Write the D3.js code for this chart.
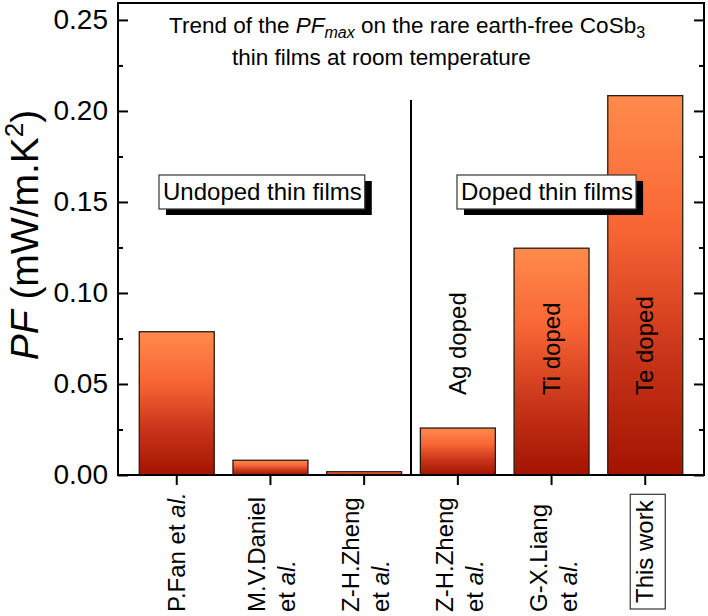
<!DOCTYPE html>
<html>
<head>
<meta charset="utf-8">
<script src="https://cdn.jsdelivr.net/npm/d3@7"></script>
<style>
  body { margin: 0; background: #fff; }
  text { font-family: "Liberation Sans", Arial, sans-serif; fill: #000; }
</style>
</head>
<body>
<div id="chart"></div>
<script>
// data
var references = ["P.Fan", "M.V.Daniel", "Z-H.Zheng", "Z-H.Zheng", "G-X.Liang", "This work"];
var tickLabels = [["P.Fan et al."], ["M.V.Daniel", "et al."], ["Z-H.Zheng", "et al."],
                  ["Z-H.Zheng", "et al."], ["G-X.Liang", "et al."], ["This work"]];
var pfValues = [0.0787, 0.0081, 0.0018, 0.0258, 0.1246, 0.2084];
var dopants = ["", "", "", "Ag doped", "Ti doped", "Te doped"];
var yTicks = [0, 0.05, 0.10, 0.15, 0.20, 0.25];
var yMinorTicks = [0.025, 0.075, 0.125, 0.175, 0.225];
var groupLabels = ["Undoped thin films", "Doped thin films"];

var svgWidth = 708, svgHeight = 616;
var margin = { top: 3, right: 4, bottom: 141, left: 118 };
var width = svgWidth - margin.left - margin.right;
var height = svgHeight - margin.top - margin.bottom;

var svg = d3.select("#chart").append("svg")
  .attr("width", svgWidth)
  .attr("height", svgHeight);

// bar gradient, light orange on top to dark red at the bottom
var grad = svg.append("defs").append("linearGradient")
  .attr("id", "barGrad")
  .attr("x1", 0).attr("y1", 0).attr("x2", 0).attr("y2", 1);
grad.append("stop").attr("offset", "0%").attr("stop-color", "#ff8b4c");
grad.append("stop").attr("offset", "35%").attr("stop-color", "#f86534");
grad.append("stop").attr("offset", "68%").attr("stop-color", "#c9351a");
grad.append("stop").attr("offset", "100%").attr("stop-color", "#a31300");

var chartGroup = svg.append("g")
  .attr("transform", `translate(${margin.left}, ${margin.top})`);

var idx = d3.range(references.length);

var xScale = d3.scaleBand()
  .domain(idx)
  .range([0, width])
  .paddingInner(0.2)
  .paddingOuter(0.227);

var yScale = d3.scaleLinear()
  .domain([0, 0.2593])
  .range([height, 0]);

// bars
chartGroup.selectAll("rect.bar")
  .data(idx)
  .enter()
  .append("rect")
  .attr("class", "bar")
  .attr("x", i => xScale(i))
  .attr("y", i => yScale(pfValues[i]))
  .attr("width", xScale.bandwidth())
  .attr("height", i => height - yScale(pfValues[i]))
  .attr("fill", "url(#barGrad)")
  .attr("stroke", "#2a1a14")
  .attr("stroke-width", 1.3);

// dopant labels inside / above bars
chartGroup.selectAll("g.dop")
  .data(idx.filter(i => dopants[i] !== ""))
  .enter()
  .append("g")
  .attr("transform", i => `translate(${xScale(i) + xScale.bandwidth() / 2}, 392) rotate(-90)`)
  .append("text")
  .attr("y", 8)
  .attr("font-size", "24px")
  .text(i => dopants[i]);

// divider between undoped and doped
var divX = (xScale(2) + xScale.bandwidth() + xScale(3)) / 2;
chartGroup.append("line")
  .attr("x1", divX).attr("x2", divX)
  .attr("y1", yScale(0)).attr("y2", yScale(0.206))
  .attr("stroke", "#000")
  .attr("stroke-width", 2);

// axes
var leftAxis = d3.axisLeft(yScale).tickValues(yTicks).tickSize(-10).tickPadding(10)
  .tickFormat(d3.format(".2f"));
var leftMinor = d3.axisLeft(yScale).tickValues(yMinorTicks).tickSize(-5).tickFormat("");
var rightAxis = d3.axisRight(yScale).tickValues(yTicks).tickSize(-10).tickFormat("");
var rightMinor = d3.axisRight(yScale).tickValues(yMinorTicks).tickSize(-5).tickFormat("");
var bottomAxis = d3.axisBottom(xScale).tickSize(10).tickFormat("");

var gl = chartGroup.append("g").call(leftAxis);
chartGroup.append("g").call(leftMinor);
chartGroup.append("g").attr("transform", `translate(${width},0)`).call(rightAxis);
chartGroup.append("g").attr("transform", `translate(${width},0)`).call(rightMinor);
chartGroup.append("g").attr("transform", `translate(0,${height})`).call(bottomAxis);

chartGroup.selectAll(".domain").remove();
chartGroup.selectAll(".tick line").attr("stroke", "#000").attr("stroke-width", 2);
gl.selectAll("text")
  .attr("font-size", "28px")
  .attr("font-family", "Liberation Sans, Arial, sans-serif")
  .attr("fill", "#000");

// frame
chartGroup.append("rect")
  .attr("width", width)
  .attr("height", height)
  .attr("fill", "none")
  .attr("stroke", "#000")
  .attr("stroke-width", 2);

// x tick labels, rotated
function addLine(textSel, str) {
  var parts = str.split("al.");
  textSel.append("tspan").text(parts[0]);
  if (parts.length > 1) {
    textSel.append("tspan").attr("font-style", "italic").text("al.");
  }
}

idx.forEach(function(i) {
  var cx = xScale(i) + xScale.bandwidth() / 2;
  var lines = tickLabels[i];
  var startY = i === 5 ? 600 : 609;
  var g = chartGroup.append("g")
    .attr("transform", `translate(${cx}, ${startY}) rotate(-90)`);
  var offsets = lines.length === 1 ? [8] : [-5, 25];
  lines.forEach(function(line, k) {
    var t = g.append("text")
      .attr("y", offsets[k])
      .attr("font-size", "24px");
    addLine(t, line);
    if (i === 5) {
      var len = t.node().getComputedTextLength();
      g.insert("rect", "text")
        .attr("x", -6).attr("y", -15)
        .attr("width", len + 12).attr("height", 35)
        .attr("fill", "#fff")
        .attr("stroke", "#333")
        .attr("stroke-width", 1.2);
    }
  });
});

// group label boxes with shadow
function groupBox(label, x0) {
  var g = chartGroup.append("g");
  var shadow = g.append("rect");
  var box = g.append("rect");
  var t = g.append("text")
    .attr("x", x0 + 4)
    .attr("y", 197)
    .attr("font-size", "24px")
    .text(label);
  var len = t.node().getComputedTextLength();
  shadow.attr("x", x0 + 7).attr("y", 178).attr("width", len + 7).attr("height", 34)
    .attr("fill", "#000");
  box.attr("x", x0).attr("y", 172).attr("width", len + 7).attr("height", 34)
    .attr("fill", "#fff").attr("stroke", "#333").attr("stroke-width", 1.2);
}
groupBox(groupLabels[0], 41);
groupBox(groupLabels[1], 339);

// title
var title1 = chartGroup.append("text")
  .attr("x", 51).attr("y", 30)
  .attr("font-size", "22.5px");
title1.append("tspan").text("Trend of the ");
title1.append("tspan").attr("font-style", "italic").text("PF");
title1.append("tspan").attr("font-style", "italic").attr("font-size", "16px").attr("dy", 5).text("max");
title1.append("tspan").attr("dy", -5).text(" on the rare earth-free CoSb");
title1.append("tspan").attr("font-size", "16px").attr("dy", 5).text("3");

chartGroup.append("text")
  .attr("x", 114).attr("y", 62)
  .attr("font-size", "22.5px")
  .text("thin films at room temperature");

// y axis title
var yTitle = svg.append("text")
  .attr("transform", "translate(38, 235) rotate(-90)")
  .attr("text-anchor", "middle")
  .attr("font-size", "39px");
yTitle.append("tspan").attr("font-style", "italic").text("PF");
yTitle.append("tspan").text(" (mW/m.K");
yTitle.append("tspan").attr("font-size", "26px").attr("dy", -15).text("2");
yTitle.append("tspan").attr("dy", 15).text(")");
</script>
</body>
</html>
